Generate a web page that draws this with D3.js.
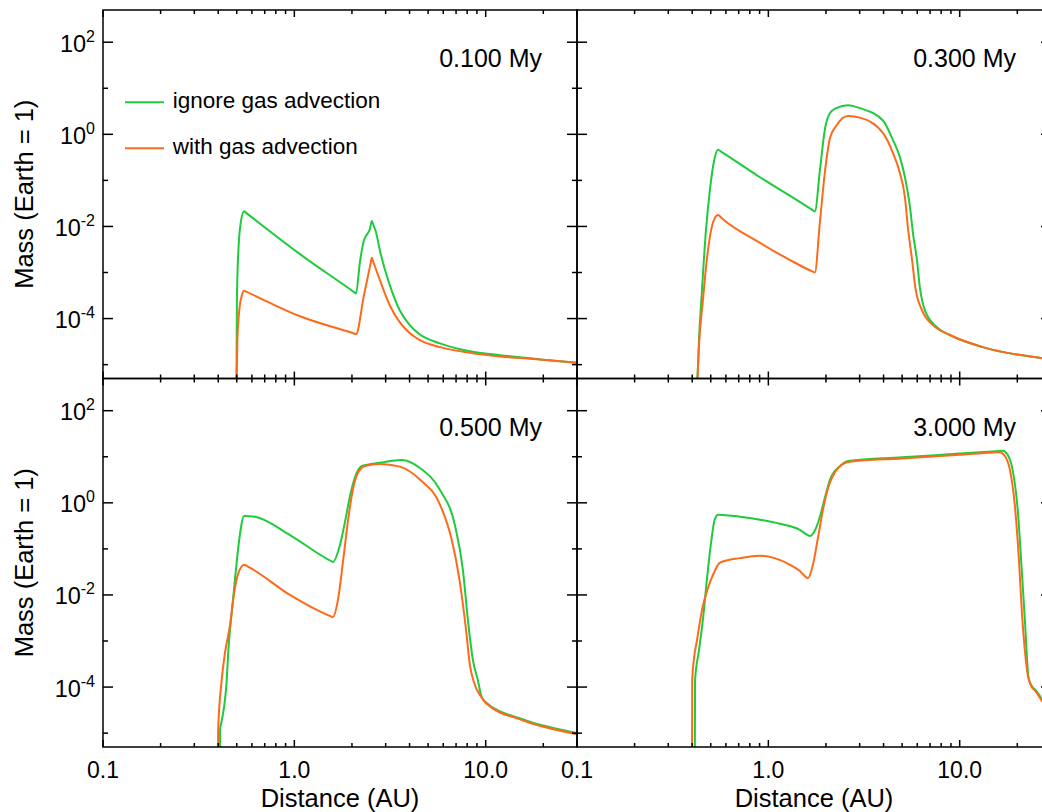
<!DOCTYPE html>
<html>
<head>
<meta charset="utf-8">
<script src="https://cdn.jsdelivr.net/npm/d3@7"></script>
<style>
  html, body { margin: 0; padding: 0; background: #fff; }
  svg { display: block; font-family: "Liberation Sans", Arial, Helvetica, sans-serif; }
</style>
</head>
<body>
<svg id="chart" width="1042" height="812"></svg>
<script>
// Panel titles (simulation time) and series
const panelTimes = ["0.100 My", "0.300 My", "0.500 My", "3.000 My"];
const seriesNames = ["ignore gas advection", "with gas advection"];
const seriesColors = ["#1ecb3c", "#ff6a1a"];

// Axis ticks and labels
const xDomain = [0.1, 30];
const yDomain = [5e-6, 500];
const xTickValues = [0.1, 1, 10];
const xTickLabels = ["0.1", "1.0", "10.0"];
const yLabelExponents = [2, 0, -2, -4];
const xTitle = "Distance (AU)";
const yTitle = "Mass (Earth = 1)";

// Mass profiles: [distance (AU), mass (Earth = 1)]
const ignore010 = [[0.498,3e-6],[0.501,2.5e-4],[0.510,3.0e-3],[0.525,1.23e-2],[0.546,2.14e-2],
  [0.56,1.97e-2],[1.07,2.5e-3],[2.05,3.76e-4],[2.10,3.5e-4],[2.20,1.65e-3],[2.31,5.0e-3],
  [2.42,7.1e-3],[2.48,8.7e-3],[2.54,1.32e-2],[2.57,1.16e-2],[2.67,7.6e-3],[2.80,3.0e-3],
  [3.16,5.2e-4],[3.56,1.5e-4],[4.02,7.1e-5],[4.53,4.5e-5],[5.77,2.9e-5],[8.27,1.95e-5],
  [11.9,1.6e-5],[19.2,1.3e-5],[30,1.1e-5]];
const with010 = [[0.498,3e-6],[0.504,3.4e-5],[0.517,1.7e-4],[0.532,3.2e-4],[0.547,4.0e-4],
  [0.56,3.83e-4],[1.07,1.12e-4],[2.05,4.75e-5],[2.10,4.6e-5],[2.31,3.2e-4],[2.51,1.66e-3],
  [2.54,2.1e-3],[2.57,1.83e-3],[2.80,6.8e-4],[3.16,1.9e-4],[3.56,8.3e-5],[4.02,4.8e-5],
  [4.53,3.4e-5],[5.77,2.4e-5],[8.27,1.8e-5],[11.9,1.5e-5],[19.2,1.3e-5],[30,1.1e-5]];

const ignore030 = [[0.424,3e-6],[0.434,3.4e-5],[0.450,4.2e-4],[0.472,8.3e-3],[0.495,0.062],
  [0.519,0.25],[0.546,0.46],[0.571,0.41],[0.904,0.117],[1.30,0.046],[1.72,0.022],[1.75,0.021],
  [1.86,0.166],[1.98,1.38],[2.10,2.9],[2.26,3.7],[2.61,4.3],[3.01,3.7],[3.97,2.0],[4.48,0.75],
  [4.87,0.32],[5.17,0.118],[5.50,0.026],[5.70,7.1e-3],[5.98,1.85e-3],[6.19,4.8e-4],[6.58,1.5e-4],
  [7.60,6.5e-5],[8.89,4.4e-5],[13.2,2.4e-5],[26.9,1.38e-5],[30,1.3e-5]];
const with030 = [[0.424,3e-6],[0.434,2.6e-5],[0.455,2.5e-4],[0.477,1.9e-3],[0.500,7.6e-3],
  [0.524,0.015],[0.546,0.0178],[0.571,0.015],[0.904,4.4e-3],[1.30,1.86e-3],[1.72,1.03e-3],
  [1.75,1.0e-3],[1.86,0.0126],[1.98,0.166],[2.10,0.83],[2.26,1.52],[2.61,2.5],[3.01,2.3],
  [3.97,1.07],[4.48,0.39],[4.87,0.144],[5.17,0.044],[5.36,9.6e-3],[5.64,1.85e-3],[5.86,4.8e-4],
  [6.36,1.5e-4],[7.27,7.1e-5],[8.89,4.4e-5],[13.2,2.4e-5],[26.9,1.38e-5],[30,1.3e-5]];

const ignore050 = [[0.409,3e-6],[0.4092,1.2e-5],[0.418,1.9e-5],[0.443,1.4e-4],[0.452,6.3e-4],
  [0.472,4.7e-3],[0.495,0.035],[0.519,0.20],[0.546,0.52],[0.622,0.50],[0.948,0.20],[1.56,0.054],
  [1.59,0.052],[1.73,0.12],[1.84,0.39],[1.95,1.35],[2.07,3.5],[2.26,6.3],[2.80,7.4],[3.65,8.5],
  [4.53,5.7],[5.77,1.9],[6.90,0.33],[7.6,0.035],[8.07,2.9e-3],[8.57,3.9e-4],[9.1,1.4e-4],
  [9.5,6.3e-5],[10.0,4.7e-5],[15.6,2.0e-5],[30,1.0e-5]];
const with050 = [[0.399,3e-6],[0.3995,1.1e-5],[0.417,1.4e-4],[0.434,5.5e-4],[0.461,2.2e-3],
  [0.483,0.010],[0.506,0.027],[0.546,0.045],[0.585,0.039],[0.948,0.010],[1.56,3.4e-3],
  [1.59,3.3e-3],[1.69,7.8e-3],[1.80,0.057],[1.91,0.43],[2.02,1.9],[2.15,4.5],[2.34,6.3],
  [2.80,7.0],[3.56,6.1],[4.53,3.2],[5.77,0.91],[6.64,0.16],[7.3,0.021],[7.9,1.7e-3],
  [8.27,3.0e-4],[8.66,1.3e-4],[9.5,6.0e-5],[10.0,4.5e-5],[15.6,1.9e-5],[30,9.5e-6]];

const ignore300 = [[0.413,3e-6],[0.414,1.4e-4],[0.434,6.3e-4],[0.455,2.9e-3],[0.477,0.021],
  [0.500,0.12],[0.524,0.43],[0.546,0.55],[0.711,0.50],[0.904,0.43],[1.15,0.35],[1.46,0.26],
  [1.62,0.195],[1.65,0.19],[1.75,0.25],[1.86,0.50],[1.98,1.35],[2.10,3.2],[2.37,6.3],[2.61,8.1],
  [5.0,9.7],[10.0,11.7],[15.5,13.2],[16.8,13.5],[17.8,11],[18.9,5.2],[20.1,0.71],[21.1,0.035],
  [21.9,2.9e-3],[22.9,1.6e-4],[24.0,1.0e-4],[25.0,8.5e-5],[26.9,5.5e-5],[30,3.2e-5]];
const with300 = [[0.399,3e-6],[0.400,1.4e-4],[0.408,3.9e-4],[0.424,1.05e-3],[0.450,4.7e-3],
  [0.483,0.014],[0.519,0.030],[0.558,0.050],[0.711,0.063],[0.904,0.071],[1.08,0.063],[1.30,0.045],
  [1.46,0.033],[1.58,0.024],[1.61,0.023],[1.71,0.045],[1.81,0.16],[1.93,0.71],[2.05,2.1],
  [2.23,4.7],[2.42,6.7],[2.67,7.8],[5.0,9.2],[10.0,11.1],[15.0,12.4],[16.2,12.6],[17.2,10.5],
  [18.3,5.2],[19.4,0.91],[20.4,0.057],[21.1,4.7e-3],[21.9,6.3e-4],[22.7,1.8e-4],[23.8,1.0e-4],
  [25.0,8.0e-5],[26.9,5.0e-5],[30,2.9e-5]];

const panelSeries = [
  [ignore010, with010],
  [ignore030, with030],
  [ignore050, with050],
  [ignore300, with300]
];

// Layout
const plotLeft = 103, plotTop = 10;
const panelW = 474, panelH = 368.5;
const svg = d3.select("#chart");

panelTimes.forEach((title, i) => {
  const col = i % 2, row = Math.floor(i / 2);
  const x0 = plotLeft + col * panelW, x1 = x0 + panelW;
  const y0 = plotTop + row * panelH, y1 = y0 + panelH;
  const x = d3.scaleLog().domain(xDomain).range([x0, x1]);
  const y = d3.scaleLog().domain(yDomain).range([y1, y0]);
  const g = svg.append("g");

  const clipId = "clip" + i;
  svg.append("clipPath").attr("id", clipId)
    .append("rect").attr("x", x0).attr("y", y0).attr("width", panelW).attr("height", panelH);

  // mass profiles
  const line = d3.line().x(d => x(d[0])).y(d => y(d[1])).curve(d3.curveMonotoneX);
  panelSeries[i].forEach((data, s) => {
    g.append("path").datum(data)
      .attr("clip-path", `url(#${clipId})`)
      .attr("d", line)
      .attr("fill", "none")
      .attr("stroke", seriesColors[s])
      .attr("stroke-width", 2)
      .attr("stroke-linejoin", "round");
  });

  // frame
  g.append("rect").attr("x", x0).attr("y", y0).attr("width", panelW).attr("height", panelH)
    .attr("fill", "none").attr("stroke", "#000").attr("stroke-width", 1.5);

  // y ticks every decade, longer on even decades
  const yTicks = d3.range(-5, 3).map(k => ({ v: Math.pow(10, k), len: k % 2 === 0 ? 10 : 5 }));
  yTicks.forEach(t => {
    const py = y(t.v);
    g.append("line").attr("x1", x0).attr("x2", x0 + t.len).attr("y1", py).attr("y2", py)
      .attr("stroke", "#000").attr("stroke-width", 1.5);
    g.append("line").attr("x1", x1).attr("x2", x1 - t.len).attr("y1", py).attr("y2", py)
      .attr("stroke", "#000").attr("stroke-width", 1.5);
  });

  // x ticks: decades long, 2..9 short
  const xTicks = [];
  [-1, 0, 1].forEach(n => d3.range(1, 10).forEach(k => {
    const v = k * Math.pow(10, n);
    if (v >= xDomain[0] && v <= xDomain[1] + 1e-9) xTicks.push({ v, len: k === 1 ? 7 : 4 });
  }));
  xTicks.forEach(t => {
    const px = x(t.v);
    g.append("line").attr("x1", px).attr("x2", px).attr("y1", y1).attr("y2", y1 - t.len)
      .attr("stroke", "#000").attr("stroke-width", 1.5);
    g.append("line").attr("x1", px).attr("x2", px).attr("y1", y0).attr("y2", y0 + t.len)
      .attr("stroke", "#000").attr("stroke-width", 1.5);
  });

  // y labels and title on the left column
  if (col === 0) {
    yLabelExponents.forEach(e => {
      const t = g.append("text").attr("x", x0 - 8).attr("y", y(Math.pow(10, e)) + 9.5)
        .attr("text-anchor", "end").attr("font-size", 23.5).attr("fill", "#000");
      t.append("tspan").text("10");
      t.append("tspan").attr("dy", -10).attr("font-size", 16).text(String(e));
    });
    g.append("text")
      .attr("transform", `translate(33,${(y0 + y1) / 2}) rotate(-90)`)
      .attr("text-anchor", "middle").attr("font-size", 25.5).text(yTitle);
  }

  // x labels and title on the bottom row
  if (row === 1) {
    xTickValues.forEach((v, k) => {
      g.append("text").attr("x", x(v)).attr("y", 777.5)
        .attr("text-anchor", "middle").attr("font-size", 23).text(xTickLabels[k]);
    });
    g.append("text").attr("x", (x0 + x1) / 2).attr("y", 806.5)
      .attr("text-anchor", "middle").attr("font-size", 25.5).text(xTitle);
  }

  // panel title
  g.append("text").attr("x", x1 - 35).attr("y", y0 + 57.3)
    .attr("text-anchor", "end").attr("font-size", 25).text(title);

  // legend in the first panel
  if (i === 0) {
    const legY = [102.3, 148.3];
    seriesNames.forEach((name, s) => {
      g.append("line").attr("x1", 125).attr("x2", 164).attr("y1", legY[s]).attr("y2", legY[s])
        .attr("stroke", seriesColors[s]).attr("stroke-width", 2);
      g.append("text").attr("x", 172.7).attr("y", legY[s] + 5.8)
        .attr("font-size", 22.5).text(name);
    });
  }
});
</script>
</body>
</html>
